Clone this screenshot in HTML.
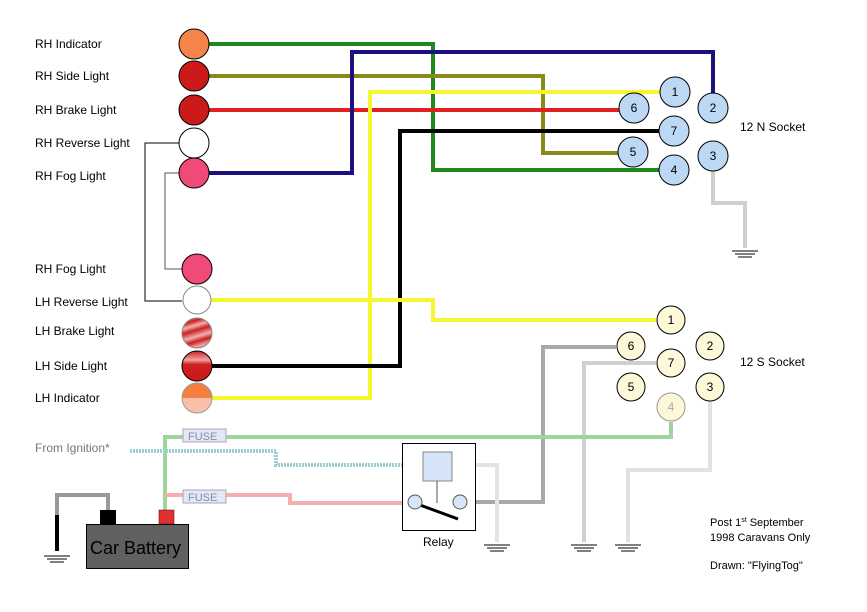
<!DOCTYPE html>
<html><head><meta charset="utf-8"><style>
html,body{margin:0;padding:0;background:#fff}
svg{display:block}
text{font-family:"Liberation Sans",Arial,sans-serif}
</style></head><body>
<svg width="867" height="612" viewBox="0 0 867 612" xmlns="http://www.w3.org/2000/svg">
<defs>
<g id="gnd"><line x1="-13" y1="0" x2="13" y2="0" stroke="#000" stroke-width="1"/><line x1="-10" y1="3" x2="10" y2="3" stroke="#000" stroke-width="1"/><line x1="-7" y1="6" x2="7" y2="6" stroke="#000" stroke-width="1"/></g>
<linearGradient id="brk" x1="0" y1="0" x2="0.3" y2="1">
<stop offset="0" stop-color="#e8a0a0"/><stop offset="0.2" stop-color="#cc2020"/><stop offset="0.35" stop-color="#f0b0b0"/><stop offset="0.5" stop-color="#cc2020"/><stop offset="0.7" stop-color="#f0b0b0"/><stop offset="0.85" stop-color="#cc2020"/><stop offset="1" stop-color="#e8a0a0"/></linearGradient>
<linearGradient id="side" x1="0" y1="0" x2="0" y2="1">
<stop offset="0" stop-color="#cc2020"/><stop offset="0.3" stop-color="#f0a0a0"/><stop offset="0.45" stop-color="#cc2020"/><stop offset="1" stop-color="#cc1818"/></linearGradient>
<linearGradient id="ind" x1="0" y1="0" x2="0" y2="1">
<stop offset="0" stop-color="#f47f40"/><stop offset="0.5" stop-color="#f47f40"/><stop offset="0.5" stop-color="#f8c0a8"/><stop offset="1" stop-color="#f8c0a8"/></linearGradient>
</defs>

<!-- left labels -->
<g font-size="12" fill="#000">
<text x="35" y="48">RH Indicator</text>
<text x="35" y="80">RH Side Light</text>
<text x="35" y="114">RH Brake Light</text>
<text x="35" y="147">RH Reverse Light</text>
<text x="35" y="180">RH Fog Light</text>
<text x="35" y="273">RH Fog Light</text>
<text x="35" y="306">LH Reverse Light</text>
<text x="35" y="335">LH Brake Light</text>
<text x="35" y="370">LH Side Light</text>
<text x="35" y="402">LH Indicator</text>
<text x="35" y="452" fill="#777">From Ignition*</text>
</g>

<!-- brackets -->
<polyline points="180,143 145,143 145,301 182,301" fill="none" stroke="#000" stroke-width="1"/>
<polyline points="180,173 165,173 165,269 182,269" fill="none" stroke="#555" stroke-width="1"/>

<!-- wires 12N -->
<g fill="none" stroke-width="4">
<polyline points="194,44 433,44 433,170 660,170" stroke="#1e8a1e"/>
<polyline points="194,76 543,76 543,153 618,153" stroke="#8a8a1a"/>
<polyline points="194,110 619,110" stroke="#e02020"/>
<polyline points="194,173 352,173 352,52 713,52 713,93" stroke="#1a1080"/>
<polyline points="660,92 370,92 370,398 197,398" stroke="#f5f530"/>
<polyline points="197,366 400,366 400,131 660,131" stroke="#000"/>
<polyline points="197,300 433,300 433,320 656,320" stroke="#f5f530"/>
<polyline points="713,171 713,203 745,203 745,248" stroke="#cfcfcf"/>
</g>

<!-- 12S / battery wiring -->
<g fill="none" stroke-width="4">
<polyline points="616,347 543,347 543,502 467,502" stroke="#a8a8a8"/>
<polyline points="656,363 584,363 584,542" stroke="#d0d0d0"/>
<polyline points="710,400 710,470 628,470 628,542" stroke="#e2e2e2"/>
<polyline points="452,465 497,465 497,542" stroke="#e4e4e4"/>
<polyline points="671,422 671,437 165,437 165,512" stroke="#9fd49f"/>
<polyline points="165,495 290,495 290,503 408,503" stroke="#f4b0b0"/>
<polyline points="130,451 276,451 276,465 423,465" stroke="#9ecfcf" stroke-dasharray="2,1"/>
<polyline points="57,551 57,495 108,495 108,512" stroke="#999"/>
</g>
<line x1="57" y1="515" x2="57" y2="551" stroke="#000" stroke-width="4"/>

<!-- fuses -->
<rect x="183" y="429" width="43" height="13" fill="#e4e8f4" stroke="#b0a0b8"/>
<text x="188" y="440" font-size="11" fill="#8090a8">FUSE</text>
<rect x="183" y="490" width="43" height="13" fill="#e4e8f4" stroke="#b0a0b8"/>
<text x="188" y="501" font-size="11" fill="#8090a8">FUSE</text>

<!-- battery -->
<rect x="100" y="510" width="16" height="14" fill="#000"/>
<rect x="159" y="510" width="15" height="14" fill="#e03030" stroke="#600" stroke-width="0.5"/>
<rect x="86.5" y="524.5" width="102" height="44" fill="#606060" stroke="#000"/>
<text x="90" y="554" font-size="18" fill="#000">Car Battery</text>

<!-- relay -->
<rect x="402.5" y="443.5" width="73" height="87" fill="#fff" stroke="#000"/>
<rect x="423" y="452" width="29" height="29" fill="#d6e4fa" stroke="#888"/>
<line x1="437" y1="481" x2="437" y2="503" stroke="#555"/>
<line x1="420" y1="505" x2="458" y2="519" stroke="#000" stroke-width="3"/>
<circle cx="415" cy="502" r="7" fill="#d6e6f8" stroke="#555"/>
<circle cx="460" cy="502" r="7" fill="#d6e6f8" stroke="#555"/>
<text x="423" y="546" font-size="12">Relay</text>

<!-- grounds -->
<use href="#gnd" x="57" y="556"/>
<use href="#gnd" x="497" y="545"/>
<use href="#gnd" x="584" y="545"/>
<use href="#gnd" x="628" y="545"/>
<use href="#gnd" x="745" y="251"/>

<!-- lights -->
<g stroke="#000" stroke-width="1">
<circle cx="194" cy="44" r="15" fill="#f4844a"/>
<circle cx="194" cy="76" r="15" fill="#cc1a1a"/>
<circle cx="194" cy="110" r="15" fill="#cc1a1a"/>
<circle cx="194" cy="143" r="15" fill="#fff"/>
<circle cx="194" cy="173" r="15" fill="#f04a78"/>
<circle cx="197" cy="269" r="15" fill="#f04a78"/>
<circle cx="197" cy="300" r="14" fill="#fff" stroke="#888"/>
<circle cx="197" cy="333" r="15" fill="url(#brk)" stroke="#888"/>
<circle cx="197" cy="366" r="15" fill="url(#side)"/>
<circle cx="197" cy="398" r="15" fill="url(#ind)" stroke="#999"/>
</g>

<!-- 12N socket -->
<g stroke="#000" stroke-width="1" fill="#bcd8f5">
<circle cx="675" cy="92" r="15"/><circle cx="634" cy="108" r="15"/><circle cx="713" cy="108" r="15"/>
<circle cx="674" cy="131" r="15"/><circle cx="633" cy="152" r="15"/><circle cx="713" cy="156" r="15"/><circle cx="674" cy="170" r="15"/>
</g>
<g font-size="12" text-anchor="middle">
<text x="675" y="96">1</text><text x="634" y="112">6</text><text x="713" y="112">2</text>
<text x="674" y="135">7</text><text x="633" y="156">5</text><text x="713" y="160">3</text><text x="674" y="174">4</text>
</g>
<text x="740" y="131" font-size="12">12 N Socket</text>

<!-- 12S socket -->
<g stroke="#000" stroke-width="1" fill="#fcf8d8">
<circle cx="671" cy="320" r="14"/><circle cx="631" cy="346" r="14"/><circle cx="710" cy="346" r="14"/>
<circle cx="671" cy="363" r="14"/><circle cx="631" cy="387" r="14"/><circle cx="710" cy="387" r="14"/>
<circle cx="671" cy="407" r="14" stroke="#999"/>
</g>
<g font-size="12" text-anchor="middle">
<text x="671" y="324">1</text><text x="631" y="350">6</text><text x="710" y="350">2</text>
<text x="671" y="367">7</text><text x="631" y="391">5</text><text x="710" y="391">3</text><text x="671" y="411" fill="#aaa">4</text>
</g>
<text x="740" y="366" font-size="12">12 S Socket</text>

<g font-size="11">
<text x="710" y="526">Post 1<tspan font-size="7" dy="-4">st</tspan><tspan dy="4"> September</tspan></text>
<text x="710" y="541">1998 Caravans Only</text>
<text x="710" y="569">Drawn: "FlyingTog"</text>
</g>
</svg>
</body></html>
